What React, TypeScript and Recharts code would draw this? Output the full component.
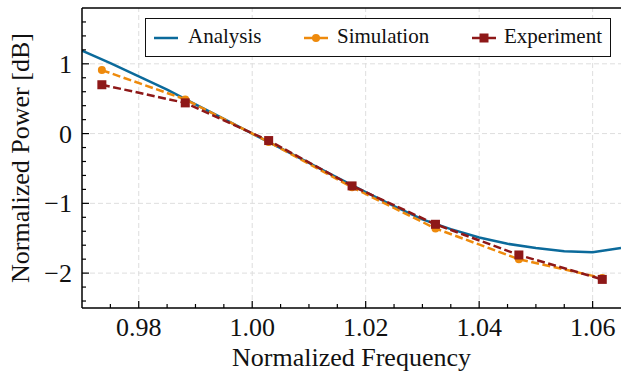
import React from 'react';
import { LineChart, Line, XAxis, YAxis, ReferenceLine, Legend, Label } from 'recharts';

// ---- data ----
const analysisX = [0.970, 0.975, 0.980, 0.985, 0.990, 0.995, 1.000, 1.005, 1.010, 1.015, 1.020, 1.025, 1.030, 1.035, 1.040, 1.045, 1.050, 1.055, 1.060, 1.065];
const analysisY = [1.19, 1.01, 0.82, 0.63, 0.42, 0.21, 0.00, -0.21, -0.42, -0.63, -0.84, -1.04, -1.23, -1.37, -1.49, -1.58, -1.64, -1.685, -1.70, -1.64];

const measX = [0.9735, 0.9882, 1.0029, 1.0176, 1.0323, 1.0470, 1.0617];
const simulationY = [0.91, 0.49, -0.12, -0.77, -1.36, -1.80, -2.07];
const experimentY = [0.70, 0.44, -0.10, -0.75, -1.30, -1.74, -2.09];

const xMajor = [0.98, 1.00, 1.02, 1.04, 1.06];
const xTicks = [0.975, 0.98, 0.985, 0.99, 0.995, 1.0, 1.005, 1.01, 1.015, 1.02, 1.025, 1.03, 1.035, 1.04, 1.045, 1.05, 1.055, 1.06];
const yMajor = [-2, -1, 0, 1];
const yTicks = [-2.4, -2.2, -2.0, -1.8, -1.6, -1.4, -1.2, -1.0, -0.8, -0.6, -0.4, -0.2, 0, 0.2, 0.4, 0.6, 0.8, 1.0, 1.2, 1.4, 1.6];

const xDomain = [0.97, 1.065];
const yDomain = [-2.5, 1.8];

const seriesNames = ['Analysis', 'Simulation', 'Experiment'];
const COLORS = { Analysis: '#0b6a9b', Simulation: '#ee8a0c', Experiment: '#8e1818' };

const analysisData = analysisX.map((x, i) => ({ x, y: analysisY[i] }));
const simulationData = measX.map((x, i) => ({ x, y: simulationY[i] }));
const experimentData = measX.map((x, i) => ({ x, y: experimentY[i] }));

const FONT = '"Liberation Serif", "Times New Roman", Times, serif';

const isMajor = (arr: number[], v: number) => arr.some((m) => Math.abs(m - v) < 1e-9);
const fmtY = (v: number) => (v < 0 ? '\u2212' + Math.abs(v) : String(v));

const XTick = (props: any) => {
  const { x, y, payload } = props;
  const v = payload.value;
  const major = isMajor(xMajor, v);
  return (
    <g>
      <line x1={x} x2={x} y1={y} y2={y - (major ? 7 : 4)} stroke="#000" strokeWidth={1.2} />
      {major && (
        <text x={x} y={y + 28} textAnchor="middle" fontFamily={FONT} fontSize={26} fill="#111">
          {v.toFixed(2)}
        </text>
      )}
    </g>
  );
};

const YTick = (props: any) => {
  const { x, y, payload } = props;
  const v = payload.value;
  const major = isMajor(yMajor, v);
  return (
    <g>
      <line x1={x} x2={x + (major ? 7 : 4)} y1={y} y2={y} stroke="#000" strokeWidth={1.2} />
      {major && (
        <text x={x - 10} y={y + 9} textAnchor="end" fontFamily={FONT} fontSize={26} fill="#111">
          {fmtY(v)}
        </text>
      )}
    </g>
  );
};

const SquareDot = (props: any) => {
  const { cx, cy, index } = props;
  if (cx == null || cy == null) return null;
  return <rect key={`sq-${index}`} x={cx - 4.5} y={cy - 4.5} width={9} height={9} fill={COLORS.Experiment} />;
};

const CircleDot = (props: any) => {
  const { cx, cy, index } = props;
  if (cx == null || cy == null) return null;
  return <circle key={`c-${index}`} cx={cx} cy={cy} r={4} fill={COLORS.Simulation} />;
};

const legendIconLeft = [8, 158, 326];
const legendTextLeft = [42, 191, 358];

const LegendBox = () => (
  <div
    style={{
      position: 'relative',
      width: 466,
      height: 39,
      border: '1.3px solid #111',
      background: '#fff',
      boxSizing: 'border-box',
      fontFamily: FONT,
      fontSize: 21,
      color: '#111',
    }}
  >
    {seriesNames.map((name, i) => (
      <React.Fragment key={name}>
        <svg style={{ position: 'absolute', left: legendIconLeft[i], top: 12 }} width={24} height={14}>
          <line x1={0} x2={24} y1={7} y2={7} stroke={(COLORS as any)[name]} strokeWidth={2.5} />
          {name === 'Simulation' && <circle cx={12} cy={7} r={4} fill={COLORS.Simulation} />}
          {name === 'Experiment' && <rect x={7.5} y={2.5} width={9} height={9} fill={COLORS.Experiment} />}
        </svg>
        <span style={{ position: 'absolute', left: legendTextLeft[i], top: 5, lineHeight: '24px', whiteSpace: 'nowrap' }}>{name}</span>
      </React.Fragment>
    ))}
  </div>
);

export default function App() {
  return (
    <div style={{ position: 'absolute', left: 0, top: 0, width: 621, height: 375, background: '#fff' }}>
      <LineChart width={621} height={375} margin={{ top: 8, right: 0, left: 0, bottom: 0 }}>
        <XAxis
          type="number"
          dataKey="x"
          domain={xDomain}
          allowDataOverflow
          ticks={xTicks}
          interval={0}
          tick={<XTick />}
          tickLine={false}
          tickSize={0}
          tickMargin={0}
          height={67}
          axisLine={{ stroke: '#000', strokeWidth: 1.5 }}
        >
          <Label
            content={(p: any) => {
              const vb = p.viewBox;
              return (
                <text x={vb.x + vb.width / 2} y={vb.y + 58} textAnchor="middle" fontFamily={FONT} fontSize={26} fill="#111">
                  Normalized Frequency
                </text>
              );
            }}
          />
        </XAxis>
        <YAxis
          type="number"
          dataKey="y"
          domain={yDomain}
          allowDataOverflow
          ticks={yTicks}
          interval={0}
          tick={<YTick />}
          tickLine={false}
          tickSize={0}
          tickMargin={0}
          width={82}
          axisLine={{ stroke: '#000', strokeWidth: 1.5 }}
        >
          <Label
            content={(p: any) => {
              const vb = p.viewBox;
              const cx = vb.x + 29;
              const cy = vb.y + vb.height / 2;
              return (
                <text x={cx} y={cy} transform={`rotate(-90 ${cx} ${cy})`} textAnchor="middle" fontFamily={FONT} fontSize={26} fill="#111">
                  Normalized Power [dB]
                </text>
              );
            }}
          />
        </YAxis>
        {xMajor.map((v) => (
          <ReferenceLine key={`vx-${v}`} x={v} stroke="#dedede" strokeWidth={1} strokeDasharray="5 3" />
        ))}
        {yMajor.map((v) => (
          <ReferenceLine key={`hy-${v}`} y={v} stroke="#dedede" strokeWidth={1} strokeDasharray="5 3" />
        ))}
        <ReferenceLine y={yDomain[1]} stroke="#000" strokeWidth={1.5} />
        <Line
          data={analysisData}
          dataKey="y"
          name="Analysis"
          type="linear"
          stroke={COLORS.Analysis}
          strokeWidth={2.5}
          dot={false}
          isAnimationActive={false}
        />
        <Line
          data={simulationData}
          dataKey="y"
          name="Simulation"
          type="linear"
          stroke={COLORS.Simulation}
          strokeWidth={2.5}
          strokeDasharray="8 3.5"
          dot={<CircleDot />}
          isAnimationActive={false}
        />
        <Line
          data={experimentData}
          dataKey="y"
          name="Experiment"
          type="linear"
          stroke={COLORS.Experiment}
          strokeWidth={2.5}
          strokeDasharray="8 3.5"
          dot={<SquareDot />}
          isAnimationActive={false}
        />
        <Legend
          layout="horizontal"
          verticalAlign="middle"
          align="center"
          content={() => <LegendBox />}
          wrapperStyle={{ position: 'absolute', left: 145, top: 18, width: 466, height: 39 }}
        />
      </LineChart>
    </div>
  );
}
